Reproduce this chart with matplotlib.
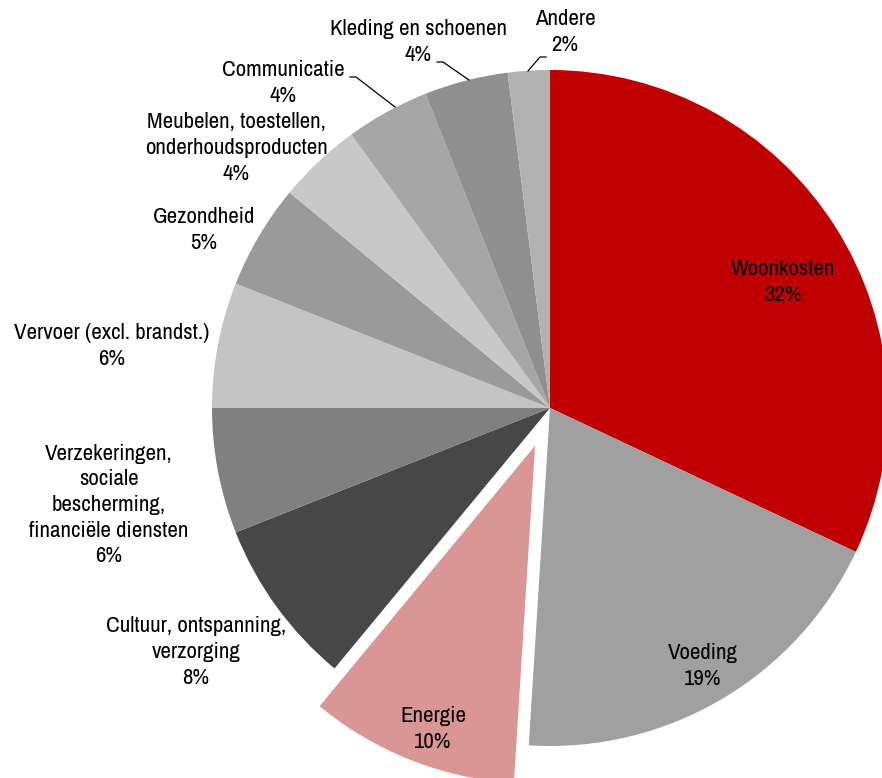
import matplotlib.pyplot as plt
from matplotlib import font_manager

labels = ["Woonkosten", "Voeding", "Energie", "Cultuur, ontspanning,\nverzorging",
          "Verzekeringen,\nsociale\nbescherming,\nfinanciële diensten",
          "Vervoer (excl. brandst.)", "Gezondheid",
          "Meubelen, toestellen,\nonderhoudsproducten", "Communicatie",
          "Kleding en schoenen", "Andere"]
values = [32, 19, 10, 8, 6, 6, 5, 4, 4, 4, 2]
colors = ["#C00000", "#A0A0A0", "#D99694", "#474747", "#808080", "#C4C4C4",
          "#9A9A9A", "#C8C8C8", "#A6A6A6", "#8F8F8F", "#B2B2B2"]
explode = [0, 0, 0.12, 0, 0, 0, 0, 0, 0, 0, 0]

# pick an upright narrow sans if one is installed
def rank(f):
    if f.style != "normal" or f.weight not in (400, "normal", "regular"):
        return None
    if f.name == "Liberation Sans Narrow":
        return 0
    if "Narrow" in f.name:
        return 1
    if "Condensed" in f.name or f.stretch in ("condensed", "semi-condensed"):
        return 2
    return None

cands = [(rank(f), f) for f in font_manager.fontManager.ttflist if rank(f) is not None]
cands.sort(key=lambda c: c[0])
if cands:
    size = 16.5 if cands[0][0] < 2 else 16.5
    font_kw = dict(fontproperties=font_manager.FontProperties(fname=cands[0][1].fname, size=size))
else:
    font_kw = dict(family=["Liberation Sans", "DejaVu Sans"], fontsize=12.5)

W, H = 882, 778
fig = plt.figure(figsize=(W / 100, H / 100), dpi=100)
ax = fig.add_axes([0, 0, 1, 1])

cx, cy, r = 550, H - 408, 338
ax.pie(values, colors=colors, explode=[e * r for e in explode], startangle=90,
       counterclock=False, radius=r, center=(cx, cy), wedgeprops=dict(linewidth=0))
ax.set_xlim(0, W)
ax.set_ylim(0, H)
ax.set_aspect("equal")
ax.axis("off")

# label centres, in pixels from the top-left
pos = [(783, 282), (703, 666), (433, 729), (196, 652), (109, 505),
       (112, 346), (204, 230), (236, 148), (283, 83), (418, 42), (565, 32)]
for lab, v, (x, y) in zip(labels, values, pos):
    ax.text(x, H - y, f"{lab}\n{v}%", ha="center", va="center",
            linespacing=1.35, color="black", **font_kw)

# leader lines for the small slices at the top
leaders = [
    [(350, 77), (356, 77), (395, 107)],
    [(437, 62), (443, 62), (469, 80)],
    [(546, 57), (540, 57), (528, 71)],
]
for pts in leaders:
    ax.plot([p[0] for p in pts], [H - p[1] for p in pts], color="black", lw=0.9)

fig.savefig("out.png", dpi=100)
